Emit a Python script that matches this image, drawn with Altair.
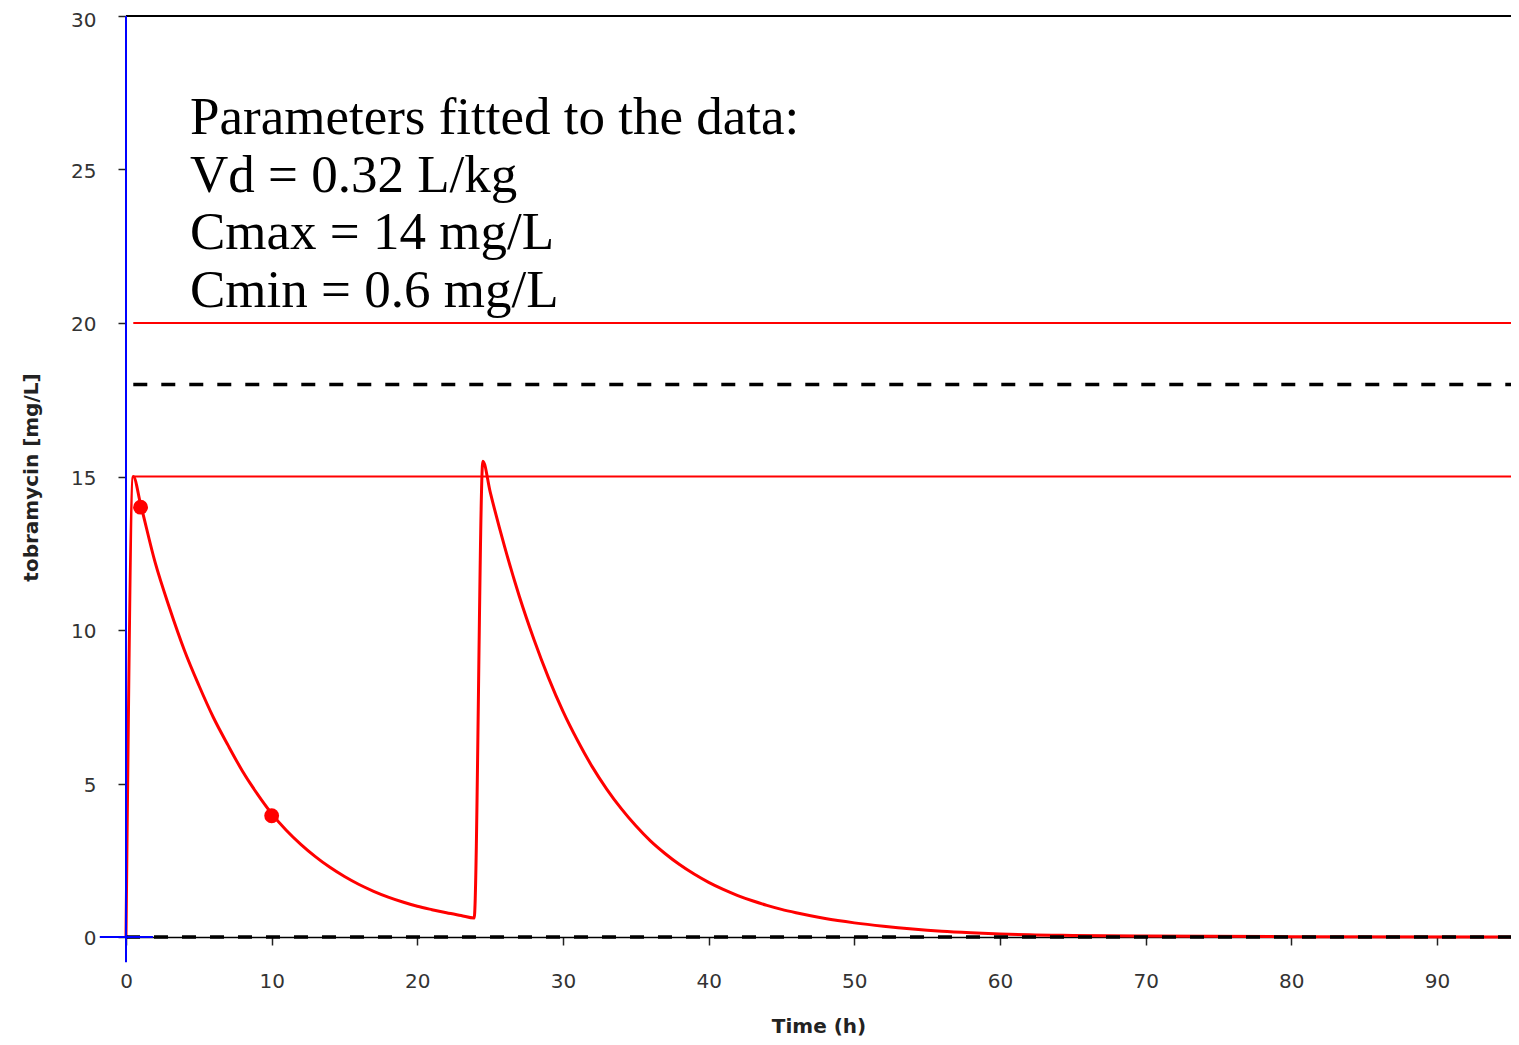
import altair as alt
import pandas as pd

# --- data ---
time_h = [0, 0.5, 1, 2, 3, 4, 5, 6, 7, 8, 9, 10, 11, 12, 13, 14, 15, 16, 17, 18, 19, 20, 21, 22, 23, 23.9,
          24.5, 25, 26, 27, 28, 29, 30, 31, 32, 33, 34, 35, 36, 37, 38, 39, 40, 41, 42, 43, 44, 45, 46, 47, 48,
          50, 52, 54, 56, 58, 60, 62, 65, 70, 80, 96]
conc_mg_l = [0, 15.0, 14.1, 12.2, 10.7, 9.35, 8.2, 7.15, 6.25, 5.4, 4.67, 4.02, 3.48, 3.02, 2.62, 2.27, 1.97, 1.71,
             1.49, 1.3, 1.14, 1.0, 0.89, 0.79, 0.7, 0.62,
             15.5, 14.5, 12.7, 11.1, 9.7, 8.45, 7.35, 6.4, 5.55, 4.82, 4.18, 3.62, 3.13, 2.72, 2.36, 2.05, 1.78,
             1.55, 1.35, 1.18, 1.03, 0.9, 0.79, 0.69, 0.6,
             0.46, 0.35, 0.26, 0.19, 0.14, 0.1, 0.07, 0.05, 0.03, 0.01, 0.0]

obs_time = [1.0, 10.0]
obs_conc = [14.0, 3.95]

red_levels = [15, 20]
dash_levels = [0, 18]
dash_start = [0, 0.5]
x_ticks = [0, 10, 20, 30, 40, 50, 60, 70, 80, 90]
y_ticks = [0, 5, 10, 15, 20, 25, 30]
note_lines = ["Parameters fitted to the data:", "Vd = 0.32 L/kg", "Cmax = 14 mg/L", "Cmin = 0.6 mg/L"]

X_MAX = 95.08
Y_MAX = 30

curve_df = pd.DataFrame({"t": time_h, "c": conc_mg_l})
obs_df = pd.DataFrame({"t": obs_time, "c": obs_conc})
red_df = pd.DataFrame({"c": red_levels, "t": [0.5] * len(red_levels), "t2": [X_MAX] * len(red_levels)})
dash_df = pd.DataFrame({"c": dash_levels, "t": dash_start, "t2": [X_MAX] * len(dash_levels)})
top_df = pd.DataFrame({"c": [Y_MAX], "t": [0], "t2": [X_MAX]})
yaxis_df = pd.DataFrame({"t": [0], "c": [-0.82], "c2": [Y_MAX]})
xstub_df = pd.DataFrame({"t": [-1.8], "t2": [1.85], "c": [0]})
note_df = pd.DataFrame({"txt": ["\n".join(note_lines)]})

x_enc = alt.X(
    "t:Q",
    scale=alt.Scale(domain=[0, X_MAX], nice=False, zero=False),
    axis=alt.Axis(
        values=x_ticks, title="Time (h)", format="d",
        domain=True, domainColor="#000000", domainWidth=1.5,
        ticks=True, tickColor="#222222", tickSize=8, tickWidth=1.5,
        labelFont="DejaVu Sans", labelFontSize=20, labelColor="#333333", labelPadding=26,
        labelFlush=False, labelOverlap=False,
        grid=False,
        titleFont="DejaVu Sans", titleFontSize=20, titleFontWeight="bold", titleColor="#222222",
        titleY=89, titleBaseline="middle",
    ),
)
y_enc = alt.Y(
    "c:Q",
    scale=alt.Scale(domain=[0, Y_MAX], nice=False, zero=False),
    axis=alt.Axis(
        values=y_ticks, title="tobramycin [mg/L]",
        domain=False,
        ticks=True, tickColor="#222222", tickSize=8, tickWidth=1.5,
        labelFont="DejaVu Sans", labelFontSize=20, labelColor="#333333", labelPadding=22,
        labelFlush=False, labelOverlap=False,
        labelOffset=alt.ExprRef(expr="datum.value === 30 ? 4.5 : 1.5"),
        grid=False,
        titleFont="DejaVu Sans", titleFontSize=20, titleFontWeight="bold", titleColor="#222222",
        titleX=-95, titleY=461, titleBaseline="middle", titleAlign="center", titleAngle=270,
    ),
)

red_lines = alt.Chart(red_df).mark_rule(color="#ff0000", strokeWidth=2).encode(
    x=x_enc, x2="t2:Q", y=y_enc)
top_line = alt.Chart(top_df).mark_rule(color="#000000", strokeWidth=2).encode(
    x=x_enc, x2="t2:Q", y=y_enc)
curve = alt.Chart(curve_df).mark_line(color="#ff0000", strokeWidth=3, interpolate="monotone").encode(
    x=x_enc, y=y_enc, order="t:Q")
dashes = alt.Chart(dash_df).mark_rule(color="#000000", strokeWidth=3.5, strokeDash=[14, 14]).encode(
    x=x_enc, x2="t2:Q", y=y_enc)
points = alt.Chart(obs_df).mark_circle(color="#ff0000", opacity=1, size=220).encode(
    x=x_enc, y=y_enc)
blue_v = alt.Chart(yaxis_df).mark_rule(color="#0000ff", strokeWidth=2).encode(
    x=x_enc, y=y_enc, y2="c2:Q")
blue_h = alt.Chart(xstub_df).mark_rule(color="#0000ff", strokeWidth=2).encode(
    x=x_enc, x2="t2:Q", y=y_enc)
note = alt.Chart(note_df).mark_text(
    font="Liberation Serif", fontSize=53, color="#000000", align="left", baseline="alphabetic",
    lineBreak="\n", lineHeight=57.5,
).encode(x=alt.value(64), y=alt.value(118), text="txt:N")

chart = alt.layer(red_lines, top_line, curve, dashes, points, blue_v, blue_h, note).properties(
    width=1385, height=921,
    autosize=alt.AutoSizeParams(type="none"),
    padding={"left": 118, "top": 8, "right": 0, "bottom": 100},
    background="#ffffff",
).configure_view(stroke=None)

chart.save("out.html", embed_options={"renderer": "svg", "actions": False})
